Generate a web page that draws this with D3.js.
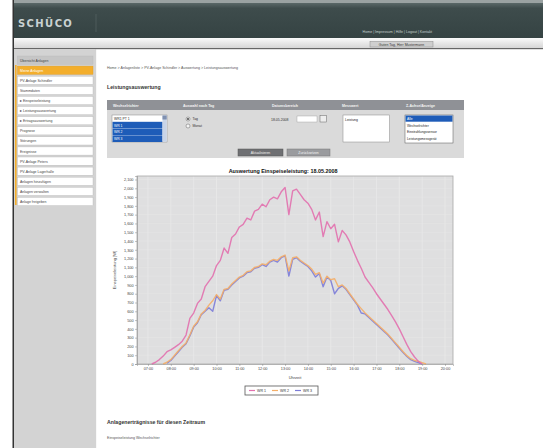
<!DOCTYPE html>
<html><head><meta charset="utf-8">
<script src="https://cdn.jsdelivr.net/npm/d3@7"></script>
<style>
html,body{margin:0;padding:0;background:#fff;}
svg{display:block;font-family:"Liberation Sans",Arial,sans-serif;}
</style></head>
<body>
<svg id="page" width="543" height="448"></svg>
<script>
// ---------- DATA ----------
const chartTitle = "Auswertung Einspeiseleistung: 18.05.2008";
const yAxisTitle = "Einspeiseleistung [W]";
const xAxisTitle = "Uhrzeit";
const xTickLabels = ["07:00","08:00","09:00","10:00","11:00","12:00","13:00","14:00","15:00","16:00","17:00","18:00","19:00","20:00"];
const yTickValues = [0,100,200,300,400,500,600,700,800,900,1000,1100,1200,1300,1400,1500,1600,1700,1800,1900,2000,2100];
const seriesNames = ["WR 1","WR 2","WR 3"];
const times = ["07:00","07:10","07:20","07:30","07:40","07:50","08:00","08:10","08:20","08:30","08:40","08:50",
  "09:00","09:10","09:20","09:30","09:40","09:50","10:00","10:10","10:20","10:30","10:40","10:50",
  "11:00","11:10","11:20","11:30","11:40","11:50","12:00","12:10","12:20","12:30","12:40","12:50",
  "13:00","13:10","13:20","13:30","13:40","13:50","14:00","14:10","14:20","14:30","14:40","14:50",
  "15:00","15:10","15:20","15:30","15:40","15:50","16:00","16:10","16:20","16:30","16:40","16:50",
  "17:00","17:10","17:20","17:30","17:40","17:50","18:00","18:10","18:20","18:30","18:40","18:50",
  "19:00","19:10","19:20"];
const wr1 = [null,0,20,50,90,140,160,190,220,260,330,520,
  580,690,740,880,940,1000,1120,1180,1320,1260,1440,1480,
  1560,1590,1660,1640,1740,1760,1820,1790,1870,1900,1880,1960,
  2010,1700,1970,1990,1930,1870,1830,1760,1640,1730,1450,1620,
  1540,1590,1390,1520,1470,1390,1280,1180,1090,990,930,870,
  800,740,680,620,550,480,400,310,220,140,80,30,
  0,null,null];
const wr2 = [null,null,null,null,0,20,50,100,150,200,240,330,
  430,480,570,610,670,720,790,740,850,860,910,950,
  990,1010,1050,1060,1100,1110,1140,1130,1170,1190,1180,1220,
  1240,1060,1210,1220,1180,1150,1120,1080,1020,1040,920,1000,
  960,970,880,900,860,800,740,680,630,580,540,500,
  460,420,380,340,290,240,190,140,95,60,40,30,
  15,0,null];
const wr3 = [null,null,null,null,null,10,40,90,140,190,230,320,
  420,470,560,600,640,600,780,720,840,850,900,940,
  980,1000,1040,1050,1090,1100,1130,1110,1160,1180,1160,1210,
  1230,1000,1190,1210,1170,1140,1110,1060,990,1030,880,990,
  950,800,860,890,850,790,730,670,580,570,530,490,
  450,410,370,330,280,230,180,130,85,50,30,15,
  0,null,null];
const menuItems = ["Übersicht Anlagen","Meine Anlagen","PV-Anlage Schindler","Stammdaten","▸ Einspeiseleistung",
  "▸ Leistungsauswertung","▸ Ertragsauswertung","Prognose","Störungen","Ereignisse","PV-Anlage Peters",
  "PV-Anlage Lagerhalle","Anlagen hinzufügen","Anlagen verwalten","Anlage freigeben"];
const formHeaders = ["Wechselrichter","Auswahl nach Tag","Datumsbereich","Messwert","Z-Achse/Anzeige"];
const wrOptions = ["WR1 PT 1","WR 1","WR 2","WR 3"];
const zOptions = ["Alle","Wechselrichter","Einstrahlungssensor","Leistungsmessgerät"];
const headerLinks = "Home  |  Impressum  |  Hilfe  |  Logout  |  Kontakt";

// ---------- PAGE ----------
const svg = d3.select("#page");
const toH = s => { const [h,m] = s.split(":").map(Number); return h + m/60; };

const defs = svg.append("defs");
const g1 = defs.append("linearGradient").attr("id","hdr").attr("x1",0).attr("y1",0).attr("x2",0).attr("y2",1);
g1.append("stop").attr("offset","0").attr("stop-color","#5a6868");
g1.append("stop").attr("offset","0.15").attr("stop-color","#3e4c4c");
g1.append("stop").attr("offset","1").attr("stop-color","#354343");
const g2 = defs.append("linearGradient").attr("id","bar").attr("x1",0).attr("y1",0).attr("x2",0).attr("y2",1);
g2.append("stop").attr("offset","0").attr("stop-color","#fafafa");
g2.append("stop").attr("offset","1").attr("stop-color","#d6d6d6");

svg.append("rect").attr("x",14).attr("y",0).attr("width",529).attr("height",3).attr("fill","#9aa2a2");
svg.append("rect").attr("x",14).attr("y",3).attr("width",529).attr("height",35).attr("fill","url(#hdr)");
svg.append("text").attr("x",18).attr("y",27).attr("font-family","DejaVu Sans, sans-serif").attr("font-weight","bold")
  .attr("font-size",10).attr("letter-spacing",1.4).attr("fill","#c9d2d2").text("SCHÜCO");
svg.append("line").attr("x1",96).attr("x2",96).attr("y1",14).attr("y2",32).attr("stroke","#5b6a6a").attr("stroke-width",0.6);
svg.append("text").attr("x",432).attr("y",33).attr("text-anchor","end").attr("font-size",3.6).attr("fill","#c8d0d0").text(headerLinks);
svg.append("rect").attr("x",14).attr("y",38).attr("width",529).attr("height",10).attr("fill","url(#bar)");
svg.append("rect").attr("x",370).attr("y",41.5).attr("width",63).attr("height",5.5).attr("fill","#cfcfcf").attr("stroke","#8a8a8a").attr("stroke-width",0.5);
svg.append("text").attr("x",401.5).attr("y",45.8).attr("text-anchor","middle").attr("font-size",3.5).attr("fill","#333").text("Guten Tag, Herr Mustermann");
svg.append("rect").attr("x",14).attr("y",48).attr("width",529).attr("height",1.2).attr("fill","#666");
svg.append("rect").attr("x",12.5).attr("y",0).attr("width",1.5).attr("height",448).attr("fill","#333");

// sidebar
svg.append("rect").attr("x",14).attr("y",49).attr("width",81.5).attr("height",399).attr("fill","#d3d3d3");
svg.append("rect").attr("x",95.5).attr("y",49).attr("width",0.6).attr("height",399).attr("fill","#bdbdbd");
menuItems.forEach((t,i) => {
  const yy = 56 + i*10.1;
  const fill = i===0 ? "#c6c6c6" : (i===1 ? "#f3ae2c" : "#ffffff");
  svg.append("rect").attr("x",17.5).attr("y",yy).attr("width",75.5).attr("height",8.2)
    .attr("fill",fill).attr("stroke",i===1?"#e09a20":"#b8b8b8").attr("stroke-width",0.4);
  svg.append("text").attr("x",20).attr("y",yy+5.6).attr("font-size",3.5).attr("fill",i===1?"#ffffff":"#444").text(t);
});
svg.append("rect").attr("x",15).attr("y",65).attr("width",1.6).attr("height",140).attr("fill","#f3ae2c");

svg.append("text").attr("x",107).attr("y",69).attr("font-size",3.6).attr("fill","#555")
  .text("Home > Anlagenliste > PV-Anlage Schindler > Auswertung > Leistungsauswertung");
svg.append("text").attr("x",107).attr("y",89).attr("font-size",5.2).attr("font-weight","bold").attr("fill","#333").text("Leistungsauswertung");

// form panel
svg.append("rect").attr("x",107).attr("y",100).attr("width",357).attr("height",10).attr("fill","#8f9196");
svg.append("rect").attr("x",107).attr("y",110).attr("width",357).attr("height",48).attr("fill","#dadada");
const hx = [113,183,272,342,406];
formHeaders.forEach((t,i) => svg.append("text").attr("x",hx[i]).attr("y",106.5).attr("font-size",3.6)
  .attr("font-weight","bold").attr("fill","#f4f4f4").text(t));
svg.append("rect").attr("x",112).attr("y",115).attr("width",55).attr("height",27).attr("fill","#fff").attr("stroke","#888").attr("stroke-width",0.5);
wrOptions.forEach((t,i) => {
  const yy = 115 + i*6.8;
  if (i>0) svg.append("rect").attr("x",112.5).attr("y",yy).attr("width",50).attr("height",6.6).attr("fill","#1e5cb8");
  svg.append("text").attr("x",114).attr("y",yy+4.8).attr("font-size",3.4).attr("fill",i>0?"#fff":"#222").text(t);
});
svg.append("rect").attr("x",162.5).attr("y",115.5).attr("width",4.2).attr("height",26.2).attr("fill","#c8d4e8");
svg.append("rect").attr("x",162.5).attr("y",115.5).attr("width",4.2).attr("height",4).attr("fill","#7f90b0");
[["Tag",119],["Monat",126]].forEach(([t,yy],i) => {
  svg.append("circle").attr("cx",188).attr("cy",yy).attr("r",2).attr("fill","#f4f4f4").attr("stroke","#666").attr("stroke-width",0.5);
  if (i===0) svg.append("circle").attr("cx",188).attr("cy",yy).attr("r",0.9).attr("fill","#333");
  svg.append("text").attr("x",192.5).attr("y",yy+1.3).attr("font-size",3.4).attr("fill","#333").text(t);
});
svg.append("text").attr("x",271).attr("y",120.5).attr("font-size",3.5).attr("fill","#333").text("18.05.2008");
svg.append("rect").attr("x",297).attr("y",116).attr("width",20).attr("height",6).attr("fill","#fff").attr("stroke","#999").attr("stroke-width",0.4);
svg.append("rect").attr("x",320).attr("y",115.5).attr("width",6.5).attr("height",6.5).attr("fill","#eee").attr("stroke","#666").attr("stroke-width",0.5);
svg.append("rect").attr("x",343).attr("y",115).attr("width",46.5).attr("height",27).attr("fill","#fff").attr("stroke","#888").attr("stroke-width",0.5);
svg.append("text").attr("x",345).attr("y",120.5).attr("font-size",3.4).attr("fill","#222").text("Leistung");
svg.append("rect").attr("x",405).attr("y",115).attr("width",48).attr("height",28).attr("fill","#fff").attr("stroke","#555").attr("stroke-width",0.5);
zOptions.forEach((t,i) => {
  const yy = 115.5 + i*6.6;
  if (i===0) svg.append("rect").attr("x",405.5).attr("y",yy).attr("width",47).attr("height",6.2).attr("fill","#1e5cb8");
  svg.append("text").attr("x",407).attr("y",yy+4.6).attr("font-size",3.3).attr("fill",i===0?"#fff":"#222").text(t);
});
svg.append("rect").attr("x",238).attr("y",149).attr("width",45).attr("height",7).attr("fill","#6f7073").attr("stroke","#555").attr("stroke-width",0.5);
svg.append("text").attr("x",260.5).attr("y",153.8).attr("text-anchor","middle").attr("font-size",3.4).attr("fill","#f0f0f0").text("Aktualisieren");
svg.append("rect").attr("x",287).attr("y",149).attr("width",43).attr("height",7).attr("fill","#9a9b9e").attr("stroke","#777").attr("stroke-width",0.5);
svg.append("text").attr("x",308.5).attr("y",153.8).attr("text-anchor","middle").attr("font-size",3.4).attr("fill","#f4f4f4").text("Zurücksetzen");

// ---------- CHART ----------
const x = d3.scaleLinear().domain([6.52, 20.35]).range([137, 453]);
const y = d3.scaleLinear().domain([0, 2140]).range([364, 176]);

svg.append("text").attr("x",283).attr("y",173).attr("text-anchor","middle").attr("font-size",5.4)
  .attr("font-weight","bold").attr("fill","#111").text(chartTitle);
svg.append("rect").attr("x",137).attr("y",176).attr("width",316).attr("height",188).attr("fill","#dfdfe0");
const grid = svg.append("g");
xTickLabels.forEach(t => grid.append("line").attr("x1",x(toH(t))).attr("x2",x(toH(t))).attr("y1",176).attr("y2",364)
  .attr("stroke","#eeeeee").attr("stroke-width",0.5));
yTickValues.forEach(v => grid.append("line").attr("x1",137).attr("x2",453).attr("y1",y(v)).attr("y2",y(v))
  .attr("stroke","#e9e9e9").attr("stroke-width",0.4));
svg.append("rect").attr("x",137).attr("y",176).attr("width",316).attr("height",188).attr("fill","none")
  .attr("stroke","#a8a8a8").attr("stroke-width",0.8);

const colors = ["#e270ae","#f4ae68","#7c7cd8"];
const line = d3.line().defined(d => d.v != null).x(d => x(toH(d.t))).y(d => y(d.v));
[wr3, wr2, wr1].forEach((s,k) => {
  const idx = 2-k;
  const data = times.map((t,i) => ({t, v: s[i]}));
  svg.append("path").datum(data).attr("d",line).attr("fill","none").attr("stroke",colors[idx])
    .attr("stroke-width",1.4).attr("stroke-linejoin","round").attr("opacity",0.9);
});

const yAxis = d3.axisLeft(y).tickValues(yTickValues).tickFormat(d3.format(",")).tickSize(2).tickPadding(1.5);
const ya = svg.append("g").attr("transform","translate(137,0)").call(yAxis);
ya.selectAll("text").attr("font-size",3.8).attr("fill","#444").attr("font-family","Liberation Sans, Arial, sans-serif");
ya.selectAll("line,path").attr("stroke","#888").attr("stroke-width",0.5);

const xAxis = d3.axisBottom(x).tickValues(xTickLabels.map(toH)).tickFormat((d,i) => xTickLabels[i]).tickSize(2).tickPadding(1.5);
const xa = svg.append("g").attr("transform","translate(0,364)").call(xAxis);
xa.selectAll("text").attr("font-size",3.8).attr("fill","#444").attr("font-family","Liberation Sans, Arial, sans-serif");
xa.selectAll("line,path").attr("stroke","#888").attr("stroke-width",0.5);

svg.append("text").attr("transform","translate(116,270) rotate(-90)").attr("text-anchor","middle")
  .attr("font-size",4).attr("fill","#444").text(yAxisTitle);
svg.append("text").attr("x",295).attr("y",379).attr("text-anchor","middle").attr("font-size",4).attr("fill","#444").text(xAxisTitle);

svg.append("rect").attr("x",245).attr("y",386).attr("width",73).attr("height",9).attr("fill","#fff")
  .attr("stroke","#555").attr("stroke-width",0.8);
seriesNames.forEach((n,i) => {
  const lx = 249 + i*23;
  svg.append("line").attr("x1",lx).attr("x2",lx+6).attr("y1",390.5).attr("y2",390.5).attr("stroke",colors[i]).attr("stroke-width",1.2);
  svg.append("text").attr("x",lx+8).attr("y",392).attr("font-size",3.6).attr("fill","#333").text(n);
});

svg.append("text").attr("x",107).attr("y",424).attr("font-size",5.2).attr("font-weight","bold").attr("fill","#333")
  .text("Anlagenerträgnisse für diesen Zeitraum");
svg.append("text").attr("x",107).attr("y",439).attr("font-size",3.6).attr("fill","#555").text("Einspeiseleistung Wechselrichter");
</script>
</body></html>
